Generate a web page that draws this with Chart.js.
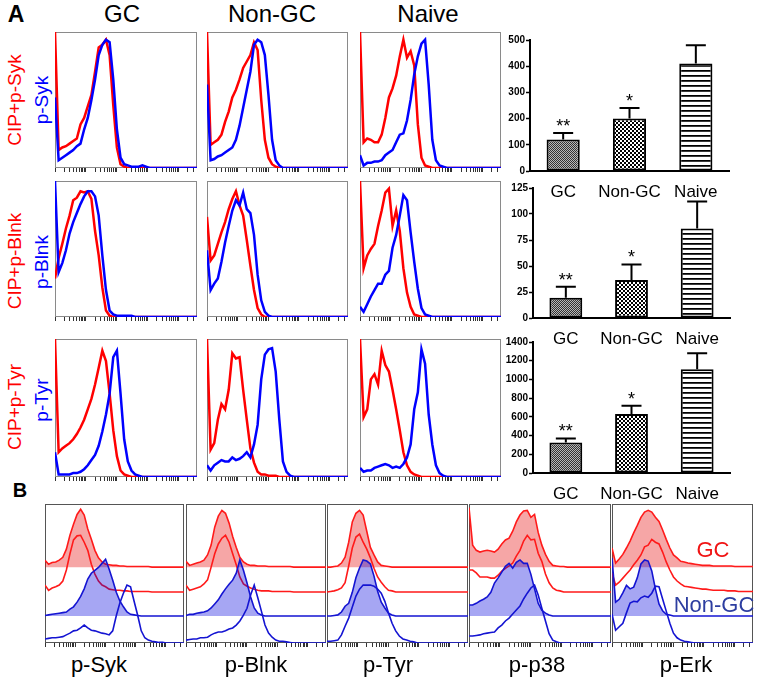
<!DOCTYPE html>
<html>
<head>
<meta charset="utf-8">
<script src="https://cdn.jsdelivr.net/npm/chart.js@4.4.1/dist/chart.umd.min.js"></script>
<style>
  body { margin: 0; background: #fff; }
  #fig { position: relative; width: 762px; height: 685px; overflow: hidden;
         font-family: "Liberation Sans", Arial, Helvetica, sans-serif; }
  #fig canvas { position: absolute; }
  .lbl { position: absolute; white-space: nowrap; line-height: 1; transform: translate(-50%, -50%); }
</style>
</head>
<body>
<div id="fig"></div>
<script>
// ---- panel A histograms: 40 channel bins, counts normalised to peak = 100 ----
// red = CIP treated + antibody, blue = antibody alone
const sykGcCip    = [106,14,16,17,19,21,23,34,39,48, 57,75,94,96,100,88,49,16,3,1, 0,0,0,0,0,0,0,0,0,0, 0,0,0,0,0,0,0,0,0,0];
const sykGc       = [55,6,8,10,12,14,17,19,30,39, 53,69,88,96,100,98,69,30,8,3, 2,1,1,1,2,1,0,0,0,0, 0,0,0,0,0,0,0,0,0,0];
const sykNonCip   = [106,18,20,22,26,36,44,55,61,69, 78,83,88,98,92,53,22,8,3,1, 0,0,0,0,0,0,0,0,0,0, 0,0,0,0,0,0,0,0,0,0];
const sykNon      = [65,6,7,9,10,12,14,16,22,33, 47,61,75,96,100,98,88,57,22,6, 2,0,0,0,0,0,0,0,0,0, 0,0,0,0,0,0,0,0,0,0];
const sykNaiveCip = [106,20,23,22,20,20,26,39,55,62, 72,87,100,86,91,80,34,8,2,1, 0,0,0,0,0,0,0,0,0,0, 0,0,0,0,0,0,0,0,0,0];
const sykNaive    = [10,2,4,4,5,5,6,10,12,14, 20,26,27,37,53,73,87,97,100,65, 22,6,2,1,0,0,0,0,0,0, 0,0,0,0,0,0,0,0,0,0];

const blnkGcCip    = [30,46,57,69,79,91,93,98,97,98, 92,67,48,23,5,1,0,0,0,0, 0,0,0,0,0,0,0,0,0,0, 0,0,0,0,0,0,0,0,0,0];
const blnkGc       = [106,35,42,52,65,74,81,88,94,98, 98,94,79,48,21,5,2,1,1,1, 1,1,0,0,0,0,0,0,0,0, 0,0,0,0,0,0,0,0,0,0];
const blnkNonCip   = [78,44,48,57,66,74,84,92,98,87, 79,60,40,21,7,2,0,0,0,0, 0,0,0,0,0,0,0,0,0,0, 0,0,0,0,0,0,0,0,0,0];
const blnkNon      = [52,21,26,30,43,58,71,83,91,87, 97,84,81,64,33,13,4,1,0,0, 0,0,0,0,0,0,0,0,0,0, 0,0,0,0,0,0,0,0,0,0];
const blnkNaiveCip = [106,38,48,53,57,71,83,97,100,71, 83,67,38,19,8,2,1,0,0,0, 0,0,0,0,0,0,0,0,0,0, 0,0,0,0,0,0,0,0,0,0];
const blnkNaive    = [8,4,10,16,21,26,26,33,36,54, 64,79,95,91,66,43,22,7,2,1, 0,0,0,0,0,0,0,0,0,0, 0,0,0,0,0,0,0,0,0,0];

const tyrGcCip    = [106,19,22,24,26,29,33,38,44,52, 60,71,84,97,89,64,36,16,5,2, 1,0,0,0,0,0,0,0,0,0, 0,0,0,0,0,0,0,0,0,0];
const tyrGc       = [19,2,2,2,2,3,3,4,6,9, 13,17,24,35,48,64,92,97,64,29, 12,5,2,1,0,0,0,0,0,0, 0,0,0,0,0,0,0,0,0,0];
const tyrNonCip   = [106,21,26,44,56,52,67,95,91,92, 67,44,22,11,4,2,2,1,1,1, 0,0,0,0,0,0,0,0,0,0, 0,0,0,0,0,0,0,0,0,0];
const tyrNon      = [9,5,9,11,13,12,12,15,13,14, 16,19,15,25,40,75,94,98,99,81, 44,12,4,1,0,0,0,0,0,0, 0,0,0,0,0,0,0,0,0,0];
const tyrNaiveCip = [106,46,52,75,79,71,97,86,81,67, 52,36,19,9,4,2,1,0,0,0, 0,0,0,0,0,0,0,0,0,0, 0,0,0,0,0,0,0,0,0,0];
const tyrNaive    = [7,4,5,5,7,8,9,10,9,7, 8,7,10,15,25,52,65,98,87,48, 25,9,3,1,0,0,0,0,0,0, 0,0,0,0,0,0,0,0,0,0];

// ---- panel A bar charts (mean MFI and SEM) ----
const CATS = ['GC', 'Non-GC', 'Naive'];
const STARS = ['**', '*', ''];
const sykMfi  = [120, 200, 410];   const sykSem  = [25, 40, 70];
const blnkMfi = [19.5, 36.5, 86];  const blnkSem = [10.5, 15, 26];
const tyrMfi  = [325, 630, 1110];  const tyrSem  = [45, 90, 170];

// ---- panel B offset histograms: GC (red) x2, Non-GC (blue) x2, top one of each filled ----
const bSykGc1  = [12,5,8,9,12,17,31,55,74,91, 100,90,66,48,29,16,9,5,4,3, 3,2,2,1,1,1,1,1,1,1, 0,0,0,0,0,0,0,0,0,0];
const bSykGc2  = [12,3,7,9,12,19,38,66,90,97, 98,86,72,48,31,19,12,9,5,4, 3,3,2,2,1,1,1,1,1,1, 0,0,0,0,0,0,0,0,0,0];
const bSykNon1 = [1,2,3,4,5,6,7,12,16,24, 34,47,64,74,79,84,91,98,81,62, 41,26,16,7,3,2,1,0,0,0, 0,0,0,0,0,0,0,0,0,0];
const bSykNon2 = [7,8,9,9,10,11,14,17,21,22, 26,31,26,22,21,19,17,16,14,21, 47,69,86,100,97,72,48,21,9,5, 3,2,1,1,0,0,0,0,0,0];

const bBlnkGc1  = [10,3,5,7,9,12,21,38,69,88, 98,93,76,53,34,17,9,5,3,3, 2,2,2,1,1,1,1,1,1,1, 0,0,0,0,0,0,0,0,0,0];
const bBlnkGc2  = [12,3,5,7,9,14,21,43,66,83, 93,98,86,66,47,26,14,10,7,5, 3,2,2,2,1,1,1,1,1,1, 0,0,0,0,0,0,0,0,0,0];
const bBlnkNon1 = [1,3,3,5,6,7,9,14,21,28, 38,47,55,62,74,97,79,57,33,14, 5,2,0,0,0,0,0,0,0,0, 0,0,0,0,0,0,0,0,0,0];
const bBlnkNon2 = [5,6,7,7,9,9,10,14,17,19, 19,21,24,26,31,38,48,60,83,100, 78,55,31,17,10,5,3,3,2,1, 0,0,0,0,0,0,0,0,0,0];

const bTyrGc1  = [0,0,1,2,7,17,43,78,93,98, 90,62,34,21,9,3,2,1,0,0, 0,0,0,0,0,0,0,0,0,0, 0,0,0,0,0,0,0,0,0,0];
const bTyrGc2  = [0,1,2,4,7,16,45,76,95,100, 86,74,59,41,26,17,9,3,2,0, 0,0,0,0,0,0,0,0,0,0, 0,0,0,0,0,0,0,0,0,0];
const bTyrNon1 = [0,0,1,2,7,17,22,41,66,83, 97,95,90,69,43,24,14,5,2,0, 0,0,0,0,0,0,0,0,0,0, 0,0,0,0,0,0,0,0,0,0];
const bTyrNon2 = [3,3,4,5,14,29,43,62,81,93, 100,100,100,98,93,86,72,52,34,21, 12,7,5,3,2,0,0,0,0,0, 0,0,0,0,0,0,0,0,0,0];

const bP38Gc1  = [103,38,29,26,28,29,28,26,31,40, 47,50,62,78,90,97,98,86,91,60, 38,22,10,3,2,1,1,0,0,0, 0,0,0,0,0,0,0,0,0,0];
const bP38Gc2  = [38,38,33,26,26,26,24,24,29,36, 41,45,50,62,72,88,98,90,91,67, 53,31,16,7,3,2,0,0,0,0, 0,0,0,0,0,0,0,0,0,0];
const bP38Non1 = [19,19,22,26,29,33,41,57,66,76, 86,91,83,93,97,91,91,72,47,22, 10,5,2,0,0,0,0,0,0,0, 0,0,0,0,0,0,0,0,0,0];
const bP38Non2 = [12,12,13,14,16,17,18,19,26,31, 38,43,50,57,64,76,86,95,100,83, 60,38,16,5,2,0,0,0,0,0, 0,0,0,0,0,0,0,0,0,0];

const bErkGc1  = [33,7,14,22,33,45,59,72,86,95, 98,95,86,79,64,48,33,21,16,10, 9,7,6,5,4,3,3,3,2,2, 2,2,2,2,1,1,1,1,1,1];
const bErkGc2  = [33,12,17,24,31,38,47,55,64,78, 81,91,86,83,69,52,38,26,19,14, 10,9,8,7,6,5,5,4,3,3, 3,3,2,2,2,1,1,1,1,1];
const bErkNon1 = [100,24,29,40,53,47,50,66,90,97, 95,78,47,21,9,3,2,0,0,0, 0,0,0,0,0,0,0,0,0,0, 0,0,0,0,0,0,0,0,0,0];
const bErkNon2 = [50,22,28,34,52,69,72,71,78,81, 79,86,98,97,76,55,34,17,9,5, 3,2,1,0,0,0,0,0,0,0, 0,0,0,0,0,0,0,0,0,0];

// vertical offsets of the four stacked B traces (same units as the counts)
const B_OFFSETS = [131, 88, 46.5, 0];

const BINS = Array.from({ length: 40 }, (_, i) => i);

const FONT = '"Liberation Sans", Arial, Helvetica, sans-serif';
Chart.defaults.font.family = FONT;
const RED = '#ff0000', BLUE = '#0000ff';
const RED_B = '#ff1a1a', BLUE_B = '#1414d2';
const RED_FILL = 'rgba(230,0,0,0.35)', BLUE_FILL = 'rgba(0,0,220,0.35)';

const fig = document.getElementById('fig');

function mkCanvas(x, y, w, h) {
  const c = document.createElement('canvas');
  c.width = w; c.height = h;
  c.style.left = x + 'px'; c.style.top = y + 'px';
  c.style.width = w + 'px'; c.style.height = h + 'px';
  fig.appendChild(c);
  return c;
}

// minor log-decade tick marks under the flow histograms
function logTicks() {
  const t = [];
  for (let d = 0; d < 5; d++) {
    for (let k = 1; k < 10; k++) {
      const v = (d + Math.log10(k)) / 4.6 * 39;
      if (v <= 39) t.push({ value: v });
    }
  }
  return t;
}

const frame = {
  id: 'frame',
  beforeDatasetsDraw(chart, args, opts) {
    const { ctx, chartArea: a } = chart;
    ctx.save();
    ctx.strokeStyle = opts.color;
    ctx.lineWidth = 1;
    ctx.strokeRect(a.left + 0.5, a.top + 0.5, a.right - a.left - 1, a.bottom - a.top - 1);
    ctx.restore();
  }
};

function flowChart(box, datasets, yMax, frameColor) {
  const c = mkCanvas(box[0] - 2, box[1] - 2, box[2] - box[0] + 4, box[3] - box[1] + 8);
  new Chart(c, {
    type: 'line',
    data: { labels: BINS, datasets },
    options: {
      responsive: false, animation: false, events: [],
      layout: { padding: { left: 2, right: 2, top: 2, bottom: 0 } },
      plugins: { legend: { display: false }, tooltip: { enabled: false }, frame: { color: frameColor } },
      elements: { point: { radius: 0 }, line: { tension: 0 } },
      scales: {
        x: {
          type: 'linear', min: 0, max: 39,
          border: { display: false },
          grid: { drawOnChartArea: false, tickLength: 4, color: '#333', tickWidth: 1 },
          ticks: { display: false },
          afterBuildTicks: s => { s.ticks = logTicks(); },
          afterFit: s => { s.height = 6; }
        },
        y: { display: false, min: 0, max: yMax }
      }
    },
    plugins: [frame]
  });
}

function pair(cip, plain) {
  return [
    { data: plain, borderColor: BLUE, borderWidth: 2.5, fill: false, order: 1 },
    { data: cip, borderColor: RED, borderWidth: 2.5, fill: false, order: 2 }
  ];
}

function stack(gc1, gc2, non1, non2) {
  const trace = (vals, off, color, fillColor, order) => ({
    data: vals.map(v => v + off),
    borderColor: color, borderWidth: 1.6,
    fill: fillColor ? { value: off } : false,
    backgroundColor: fillColor || 'transparent',
    order
  });
  return [
    trace(gc1, B_OFFSETS[0], RED_B, RED_FILL, 4),
    trace(gc2, B_OFFSETS[1], RED_B, null, 3),
    trace(non1, B_OFFSETS[2], BLUE_B, BLUE_FILL, 2),
    trace(non2, B_OFFSETS[3], BLUE_B, null, 1)
  ];
}

// ---- bar fill patterns ----
function pattern(w, h, draw) {
  const c = document.createElement('canvas');
  c.width = w; c.height = h;
  const g = c.getContext('2d');
  g.fillStyle = '#fff'; g.fillRect(0, 0, w, h);
  draw(g);
  return g.createPattern(c, 'repeat');
}
const patGc = pattern(2, 2, g => {
  g.fillStyle = '#b8b8b8'; g.fillRect(0, 0, 2, 2);
  g.fillStyle = '#333'; g.fillRect(0, 0, 1, 1); g.fillRect(1, 1, 1, 1);
});
const patNon = pattern(4, 4, g => {
  g.fillStyle = '#000'; g.fillRect(0, 0, 2, 2); g.fillRect(2, 2, 2, 2);
});
const patNaive = pattern(1, 5, g => {
  g.fillStyle = '#000'; g.fillRect(0, 0, 1, 1);
  g.fillStyle = '#3a3a3a'; g.fillRect(0, 1, 1, 1);
});

const errBars = {
  id: 'errBars',
  afterDatasetsDraw(chart, args, o) {
    const { ctx, scales: { y } } = chart;
    const meta = chart.getDatasetMeta(0);
    ctx.save();
    ctx.strokeStyle = '#000';
    ctx.lineWidth = 2;
    ctx.fillStyle = '#000';
    ctx.font = '18px ' + FONT;
    ctx.textAlign = 'center';
    ctx.textBaseline = 'alphabetic';
    meta.data.forEach((bar, i) => {
      const base = y.getPixelForValue(o.means[i]);
      const top = y.getPixelForValue(o.means[i] + o.sem[i]);
      ctx.beginPath();
      ctx.moveTo(bar.x, base); ctx.lineTo(bar.x, top);
      ctx.moveTo(bar.x - 10, top); ctx.lineTo(bar.x + 10, top);
      ctx.stroke();
      if (o.stars[i]) ctx.fillText(o.stars[i], bar.x, top - 1);
    });
    ctx.restore();
  }
};

function barChart(area, means, sem, yMax, step) {
  const [l, t, r, b] = area;
  const c = mkCanvas(l - 34, t - 10, r - l + 34 + 8, b - t + 10 + 30);
  new Chart(c, {
    type: 'bar',
    data: {
      labels: CATS,
      datasets: [{
        data: means,
        backgroundColor: [patGc, patNon, patNaive],
        borderColor: '#000', borderWidth: 2, borderSkipped: false,
        barPercentage: 0.5, categoryPercentage: 1
      }]
    },
    options: {
      responsive: false, animation: false, events: [],
      layout: { padding: { top: 10, right: 8, left: 0, bottom: 0 } },
      plugins: {
        legend: { display: false }, tooltip: { enabled: false },
        errBars: { means, sem, stars: STARS }
      },
      scales: {
        x: {
          grid: { display: false },
          border: { color: '#000', width: 2 },
          ticks: { color: '#000', font: { size: 17 }, padding: 3, maxRotation: 0, minRotation: 0, autoSkip: false },
          afterFit: s => { s.height = 30; }
        },
        y: {
          min: 0, max: yMax,
          ticks: { stepSize: step, color: '#000', font: { size: 10, weight: 'bold' }, padding: 1,
                   callback: v => String(v) },
          grid: { drawOnChartArea: false, tickLength: 4, tickColor: '#000', tickWidth: 1.5 },
          border: { color: '#000', width: 2 },
          afterFit: s => { s.width = 34; }
        }
      }
    },
    plugins: [errBars]
  });
}

// ---- layout ----
const aCols = [[55, 197], [207, 348], [360, 501]];
const aRows = [[32, 168], [181, 317], [339, 477]];
const aSets = [
  [pair(sykGcCip, sykGc), pair(sykNonCip, sykNon), pair(sykNaiveCip, sykNaive)],
  [pair(blnkGcCip, blnkGc), pair(blnkNonCip, blnkNon), pair(blnkNaiveCip, blnkNaive)],
  [pair(tyrGcCip, tyrGc), pair(tyrNonCip, tyrNon), pair(tyrNaiveCip, tyrNaive)]
];
aRows.forEach((row, ri) => {
  aCols.forEach((col, ci) => {
    flowChart([col[0], row[0], col[1], row[1]], aSets[ri][ci], 106, '#8a8a8a');
  });
});

barChart([530, 40, 729, 171], sykMfi, sykSem, 500, 100);
barChart([533, 188, 730, 318], blnkMfi, blnkSem, 125, 25);
barChart([533, 342, 730, 473], tyrMfi, tyrSem, 1400, 200);

const bCols = [[45, 184], [186, 326], [327, 468], [469, 611], [612, 753]];
const bSets = [
  stack(bSykGc1, bSykGc2, bSykNon1, bSykNon2),
  stack(bBlnkGc1, bBlnkGc2, bBlnkNon1, bBlnkNon2),
  stack(bTyrGc1, bTyrGc2, bTyrNon1, bTyrNon2),
  stack(bP38Gc1, bP38Gc2, bP38Non1, bP38Non2),
  stack(bErkGc1, bErkGc2, bErkNon1, bErkNon2)
];
bCols.forEach((col, i) => flowChart([col[0], 504, col[1], 643], bSets[i], 240, '#555'));

// ---- text ----
function text(str, cx, cy, size, color, bold, rotate) {
  const d = document.createElement('div');
  d.className = 'lbl';
  d.textContent = str;
  d.style.left = cx + 'px';
  d.style.top = cy + 'px';
  d.style.fontSize = size + 'px';
  d.style.color = color;
  if (bold) d.style.fontWeight = 'bold';
  if (rotate) d.style.transform = 'translate(-50%, -50%) rotate(-90deg)';
  fig.appendChild(d);
}

text('A', 16, 13.5, 23, '#000', true);
text('GC', 122, 14, 24, '#000');
text('Non-GC', 272, 14, 24, '#000');
text('Naive', 428, 14, 24, '#000');

text('CIP+p-Syk', 13.5, 100, 19, RED, false, true);
text('p-Syk', 41, 100, 19, BLUE, false, true);
text('CIP+p-Blnk', 13.5, 261, 19, RED, false, true);
text('p-Blnk', 41, 262, 19, BLUE, false, true);
text('CIP+p-Tyr', 13.5, 407, 19, RED, false, true);
text('p-Tyr', 41, 400, 19, BLUE, false, true);

text('B', 20, 490, 20, '#000', true);
text('p-Syk', 99, 665, 22, '#000');
text('p-Blnk', 256, 665, 22, '#000');
text('p-Tyr', 388, 665, 22, '#000');
text('p-p38', 537, 665, 22, '#000');
text('p-Erk', 686, 665, 22, '#000');
text('GC', 713, 550, 22, '#f01414');
text('Non-GC', 714, 605, 22, '#2d3ea0');
</script>
</body>
</html>
